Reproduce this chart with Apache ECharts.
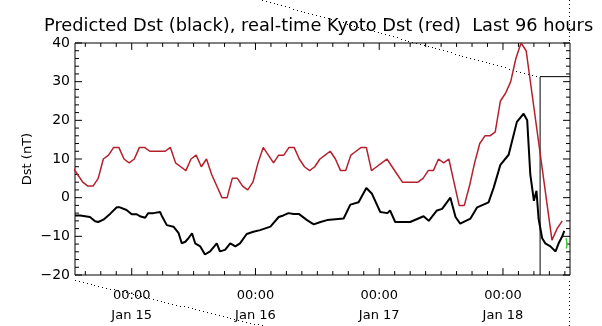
<!DOCTYPE html>
<html><head><meta charset="utf-8">
<script src="https://cdn.jsdelivr.net/npm/echarts@6/dist/echarts.min.js"></script>
<style>html,body{margin:0;padding:0;background:#fff}#c{width:602px;height:326px}</style>
</head><body><div id="c"></div>
<script>
// ---- data (hours counted from Jan 14 00:00) ----
const titleText = 'Predicted Dst (black), real-time Kyoto Dst (red)  Last 96 hours';
const yAxisName = 'Dst (nT)';
const xMin = 13, xMax = 109;
const dayTicks = [24, 48, 72, 96];
const dayLabels = ['00:00\nJan 15', '00:00\nJan 16', '00:00\nJan 17', '00:00\nJan 18'];
const minorTicks = [15,18,21,27,30,33,36,39,42,45,51,54,57,60,63,66,69,75,78,81,84,87,90,93,99,102,105,108];
const yMin = -20, yMax = 40, yStep = 10;
const yMajorTicks = [-20,-10,0,10,20,30,40];
const yMinorTicks = [-18,-16,-14,-12,-8,-6,-4,-2,2,4,6,8,12,14,16,18,22,24,26,28,32,34,36,38];

// Kyoto real-time Dst, hourly, first value at hour 12.5 (null = gap joined by a straight line)
const redStart = 12.5;
const redValues = [8,6,4,3,3,5,10,11,13,13,10,9,10,13,13,12,12,12,12,13,9,8,7,10,11,8,10,6,3,0,0,5,5,3,2,4,9,13,11,9,11,11,13,13,10,8,7,8,10,11,12,10,7,7,11,12,13,13,7,8,9,10,8,6,4,4,4,4,5,7,7,10,9,10,4,-2,-2,3,9,14,16,16,17,25,27,30,36,40,38,null,null,null,null,-11,-8,-6];

// Predicted Dst
const blackTimes = [13.0,14.0,15.9,16.9,17.5,18.5,19.8,21.1,21.7,23.0,24.0,25.0,25.6,26.6,27.2,28.2,29.5,29.8,30.8,32.1,33.1,33.7,34.4,35.0,35.7,36.3,37.3,38.2,39.2,40.5,41.1,42.1,43.1,44.1,45.0,46.3,47.6,48.9,50.9,52.5,53.4,54.4,55.4,56.4,58.0,59.3,60.6,61.9,65.1,66.4,68.0,69.5,70.6,72.2,73.6,74.1,75.1,78.0,80.6,81.6,83.2,84.2,85.8,86.8,87.7,89.7,91.0,93.2,94.2,95.5,97.1,98.7,100.0,100.7,101.3,102.0,102.5,102.9,103.6,104.2,105.2,106.2,106.8,107.5,107.9];
const blackValues = [-4.6,-4.6,-5.0,-6.1,-6.3,-5.7,-4.2,-2.5,-2.5,-3.2,-4.3,-4.3,-4.8,-5.2,-4.0,-4.0,-3.7,-4.6,-7.1,-7.5,-9.2,-11.8,-11.4,-10.5,-9.2,-11.8,-12.6,-14.7,-13.9,-11.8,-13.9,-13.5,-11.8,-12.6,-11.8,-9.4,-8.8,-8.4,-7.5,-5.0,-4.6,-4.0,-4.2,-4.2,-5.8,-6.9,-6.3,-5.8,-5.4,-1.8,-1.2,2.5,1.0,-3.7,-4.0,-3.3,-6.3,-6.3,-4.8,-6.0,-3.3,-2.9,0.0,-5.0,-6.7,-5.4,-2.5,-1.2,2.6,8.5,11.1,19.6,21.7,20.0,6.0,-0.8,1.8,-5.4,-10.5,-11.8,-12.6,-13.9,-11.8,-10.0,-8.6];

// current-time marker box
const markerTimes = [103.2, 103.2, 109];
const markerValues = [-20, 31.3, 31.3];

// green short segment at the right edge
const greenTimes = [108.25, 108.45, 108.3];
const greenValues = [-10.5, -12, -13.2];

// ---- layout ----
const GRID = {left: 75, right: 32, top: 43, bottom: 47};
const plotW = 602 - GRID.left - GRID.right, plotH = 326 - GRID.top - GRID.bottom;
const MAJOR_LEN = 7, MINOR_LEN = 4;               // tick lengths in pixels
const xPerPx = (xMax - xMin) / plotW, yPerPx = (yMax - yMin) / plotH;

// ---- build ----
const redData = redValues.map((v, i) => [redStart + i, v]);
const blackData = blackTimes.map((t, i) => [t, blackValues[i]]);
const markerData = markerTimes.map((t, i) => [t, markerValues[i]]);
const greenData = greenTimes.map((t, i) => [t, greenValues[i]]);
const frameData = [[xMin, yMin], [xMax, yMin], [xMax, yMax], [xMin, yMax], [xMin, yMin]];

// tick segments on all four sides, broken apart by '-' points
const tickData = [];
function addX(t, len) {
  const d = len * yPerPx;
  tickData.push([t, yMin], [t, yMin + d], '-', [t, yMax], [t, yMax - d], '-');
}
function addY(v, len) {
  const d = len * xPerPx;
  tickData.push([xMin, v], [xMin + d, v], '-', [xMax, v], [xMax - d, v], '-');
}
dayTicks.forEach(t => addX(t, MAJOR_LEN));
minorTicks.forEach(t => addX(t, MINOR_LEN));
yMajorTicks.forEach(v => addY(v, MAJOR_LEN));
yMinorTicks.forEach(v => addY(v, MINOR_LEN));

// decorative dotted guide lines (drawn as tiny dots)
function dotted(x1, y1, x2, y2, step) {
  const L = Math.hypot(x2 - x1, y2 - y1), n = Math.floor(L / step), out = [];
  for (let i = 0; i <= n; i++) {
    const f = i * step / L;
    out.push({type: 'rect', silent: true, shape: {x: Math.round(x1 + (x2 - x1) * f), y: Math.round(y1 + (y2 - y1) * f), width: 1, height: 1}, style: {fill: '#000'}});
  }
  return out;
}
const guideDots = [].concat(
  dotted(262, 0, 539, 77, 4),
  dotted(75, 280, 264, 326, 4),
  dotted(569, 0, 569, 43, 4),
  dotted(569, 281, 569, 326, 4)
);

const FONT = 'DejaVu Sans';
const chart = echarts.init(document.getElementById('c'), null, {renderer: 'canvas'});
chart.setOption({
  animation: false,
  title: {text: titleText, left: 39, top: 12, textStyle: {fontFamily: FONT, fontSize: 17.8, fontWeight: 'normal', color: '#000'}},
  grid: GRID,
  xAxis: [{
    type: 'value', min: xMin, max: xMax, position: 'bottom',
    splitLine: {show: false}, axisLine: {show: false, onZero: false}, axisTick: {show: false},
    axisLabel: {show: true, customValues: dayTicks, margin: 11, fontFamily: FONT, fontSize: 13, lineHeight: 20, color: '#000',
      formatter: v => dayLabels[dayTicks.indexOf(v)]}
  }],
  yAxis: [{
    type: 'value', min: yMin, max: yMax, interval: yStep, position: 'left',
    splitLine: {show: false}, axisLine: {show: false, onZero: false}, axisTick: {show: false},
    axisLabel: {margin: 5, fontFamily: FONT, fontSize: 14, color: '#000', formatter: v => v < 0 ? '\u2212' + Math.abs(v) : String(v)},
    name: yAxisName, nameLocation: 'middle', nameGap: 41, nameRotate: 90, nameMoveOverlap: false,
    nameTextStyle: {fontFamily: FONT, fontSize: 13, color: '#000'}
  }],
  series: [
    {type: 'line', name: 'frame', data: frameData, showSymbol: false, symbol: 'none', clip: false, lineStyle: {color: '#000', width: 1}, z: 1},
    {type: 'line', name: 'ticks', data: tickData, connectNulls: false, showSymbol: false, symbol: 'none', clip: false, lineStyle: {color: '#000', width: 1}, z: 1},
    {type: 'line', name: 'Kyoto', data: redData, connectNulls: true, showSymbol: false, symbol: 'none', lineStyle: {color: '#b4202c', width: 1.5}, z: 3},
    {type: 'line', name: 'Predicted', data: blackData, showSymbol: false, symbol: 'none', lineStyle: {color: '#000', width: 2}, z: 4},
    {type: 'line', name: 'marker', data: markerData, showSymbol: false, symbol: 'none', clip: false, lineStyle: {color: '#000', width: 1}, z: 2},
    {type: 'line', name: 'green', data: greenData, showSymbol: false, symbol: 'none', clip: false, lineStyle: {color: '#33cc33', width: 1.5}, z: 5}
  ],
  graphic: [{type: 'group', silent: true, z: 10, children: guideDots}]
});
</script>
</body></html>
